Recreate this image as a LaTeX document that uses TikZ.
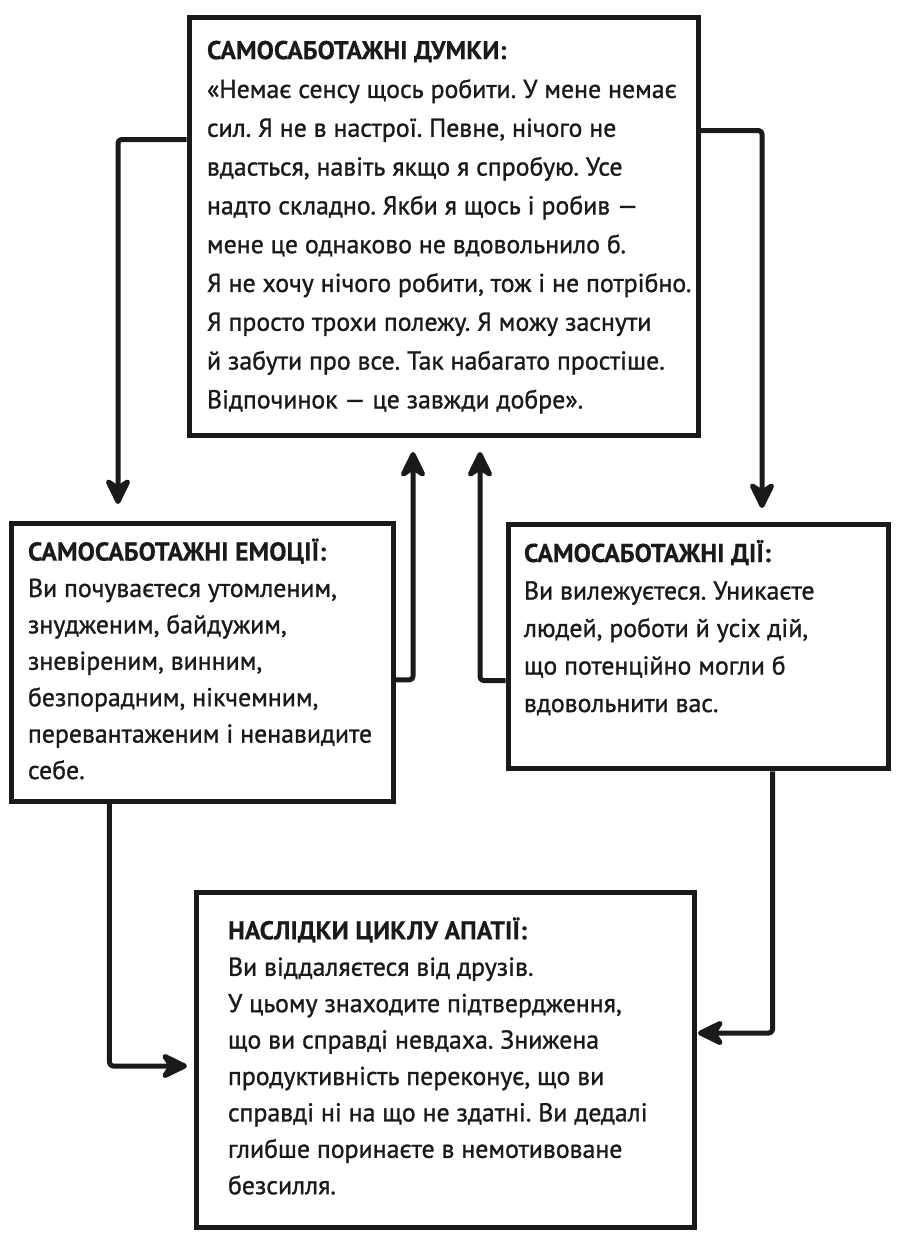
\documentclass[tikz,border=0pt]{standalone}
\usepackage{fontspec}
\setmainfont{PT Sans}
\newfontfamily\bodyfont{PT Sans}[FakeBold=1.1]
\newfontfamily\headfont{PT Sans}[FakeBold=0.3]
\usetikzlibrary{arrows.meta}
\definecolor{ink}{HTML}{1A1A1A}
\newcommand{\boxhead}[1]{{\headfont\bfseries #1}}
\newcommand{\boxlines}[2]{\makebox[#1][l]{\begin{tabular}{@{}l@{}}#2\end{tabular}}}
\frenchspacing

\begin{document}
\begin{tikzpicture}[
	cyclebox/.style = {draw=ink, line width=0.5mm, text=ink,
		font=\bodyfont\fontsize{7.35}{10.36}\selectfont},
	flow/.style = {draw=ink, line width=0.5mm, line join=round, rounded corners=1pt,
		-{Stealth[length=3.2mm, width=3.1mm, inset=1mm, round]}}
	]
	%%Frame
	\useasboundingbox (0,0) rectangle (9,-12.41);
	
	%%Boxes
	\node[cyclebox, inner xsep=0.18cm, minimum height=4.18cm,
		font=\bodyfont\fontsize{7.35}{11.04}\selectfont] (think) at (4.435,-2.26) {\boxlines{4.73cm}{%
		\boxhead{САМОСАБОТАЖНІ ДУМКИ:}\\
		«Немає сенсу щось робити. У мене немає\\
		сил. Я не в настрої. Певне, нічого не\\
		вдасться, навіть якщо я спробую. Усе\\
		надто складно. Якби я щось і робив —\\
		мене це однаково не вдовольнило б.\\
		Я не хочу нічого робити, тож і не потрібно.\\
		Я просто трохи полежу. Я можу заснути\\
		й забути про все. Так набагато простіше.\\
		Відпочинок — це завжди добре».}};
	\node[cyclebox, inner xsep=0.16cm, minimum height=2.69cm] (emo) at (2.025,-6.625) {\boxlines{3.49cm}{%
		\boxhead{САМОСАБОТАЖНІ ЕМОЦІЇ:}\\
		Ви почуваєтеся утомленим,\\
		знудженим, байдужим,\\
		зневіреним, винним,\\
		безпорадним, нікчемним,\\
		перевантаженим і ненавидите\\
		себе.}};
	\node[cyclebox, inner xsep=0.16cm, minimum height=2.37cm,
		font=\bodyfont\fontsize{7.35}{10.67}\selectfont] (act) at (6.98,-6.465) {\boxlines{3.48cm}{%
		\boxhead{САМОСАБОТАЖНІ ДІЇ:}\\
		Ви вилежуєтеся. Уникаєте\\
		людей, роботи й усіх дій,\\
		що потенційно могли б\\
		вдовольнити вас.\\[3.4mm]}};
	\node[cyclebox, inner xsep=0.32cm, minimum height=3.35cm] (res) at (4.45,-10.595) {\boxlines{4.34cm}{%
		\boxhead{НАСЛІДКИ ЦИКЛУ АПАТІЇ:}\\
		Ви віддаляєтеся від друзів.\\
		У цьому знаходите підтвердження,\\
		що ви справді невдаха. Знижена\\
		продуктивність переконує, що ви\\
		справді ні на що не здатні. Ви дедалі\\
		глибше поринаєте в немотивоване\\
		безсилля.}};
	
	%%Arrow ends
	\coordinate (emoIn) at (1.18,-5.04);
	\coordinate (actIn) at (7.62,-5.08);
	\coordinate (thinkInL) at (4.13,-4.52);
	\coordinate (thinkInR) at (4.80,-4.52);
	\coordinate (resInL) at (1.87,-10.66);
	\coordinate (resInR) at (6.98,-10.33);
	
	%%Arrows
	\draw[flow] ([yshift=-1.25cm]think.north west) -| (emoIn);
	\draw[flow] ([yshift=-1.16cm]think.north east) -| (actIn);
	\draw[flow] ([yshift=-1.59cm]emo.north east) -| (thinkInL);
	\draw[flow] ([yshift=-1.59cm]act.north west) -| (thinkInR);
	\draw[flow] ([xshift=1cm]emo.south west) |- (resInL);
	\draw[flow] ([xshift=2.67cm]act.south west) |- (resInR);
\end{tikzpicture}
\end{document}
